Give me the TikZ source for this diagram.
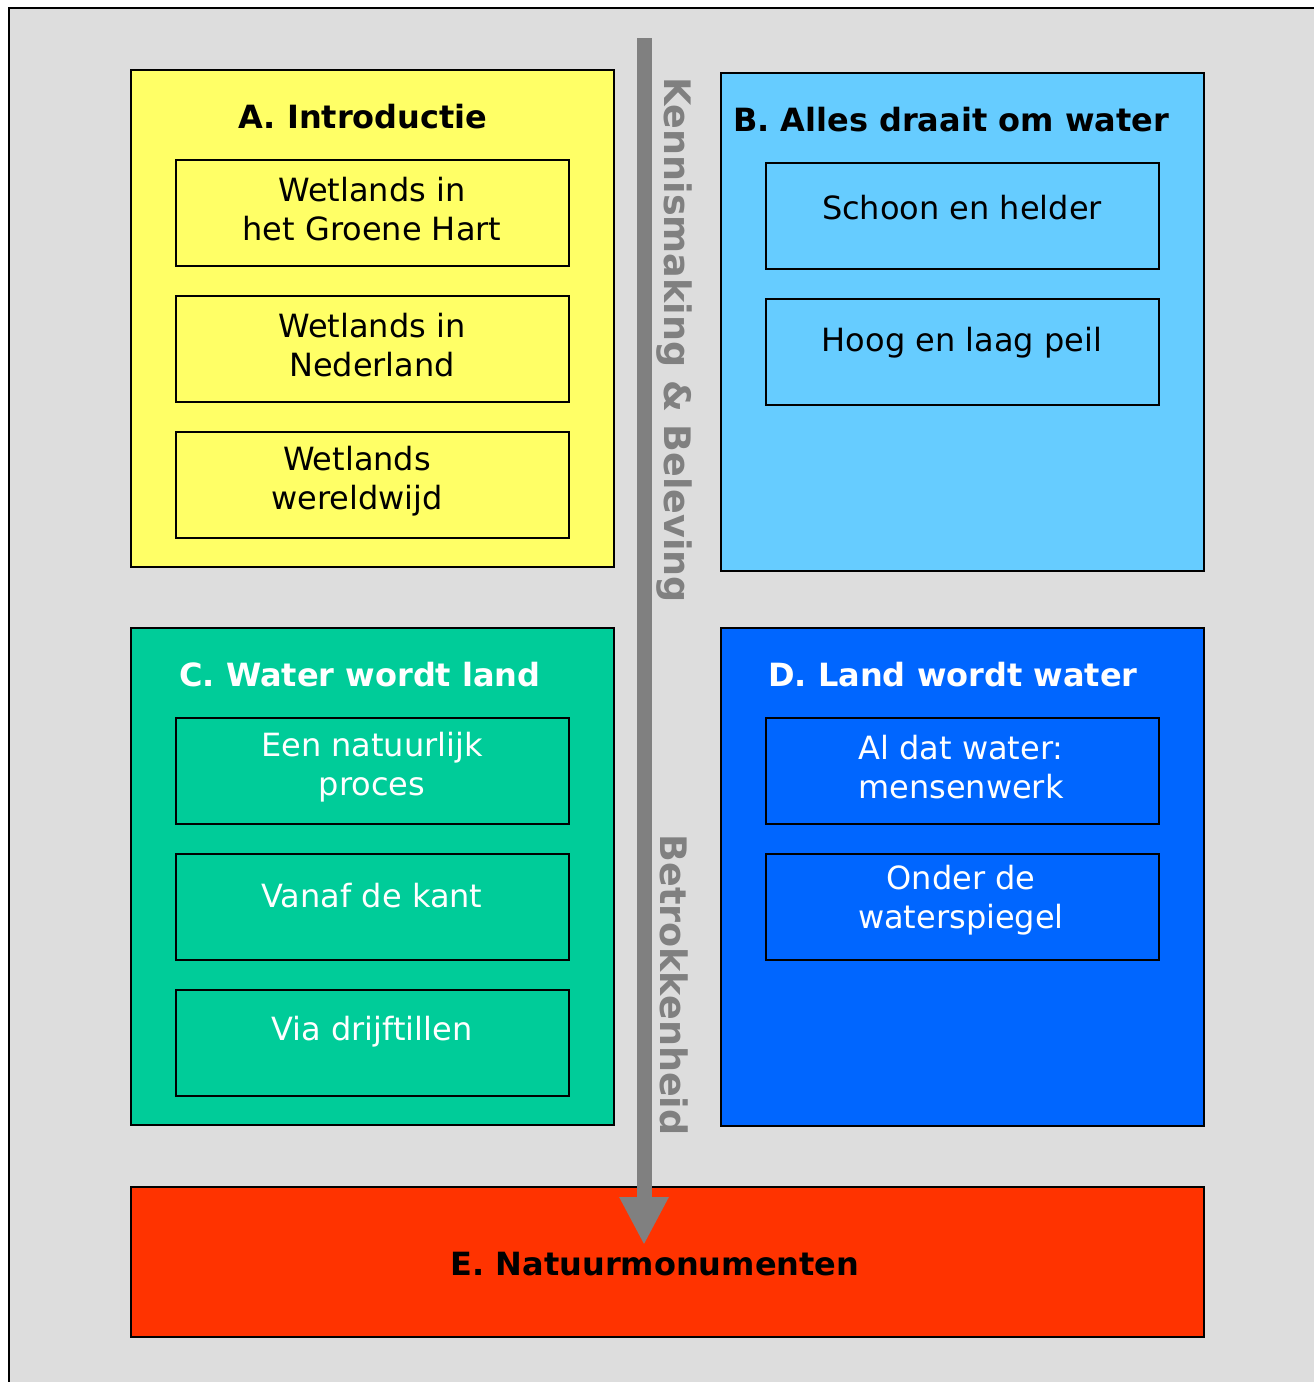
\documentclass[tikz,border=0pt]{standalone}
\usepackage{fontspec}
\setmainfont{DejaVu Sans}
\usetikzlibrary{arrows.meta}
\definecolor{bggray}{HTML}{DDDDDD}
\definecolor{cyel}{HTML}{FFFF66}
\definecolor{cblue}{HTML}{66CCFF}
\definecolor{cgreen}{HTML}{00CC99}
\definecolor{cdblue}{HTML}{0066FF}
\definecolor{cred}{HTML}{FF3300}
\definecolor{arrgray}{HTML}{808080}
\tikzset{
  panel/.style={draw=black, line width=2pt, anchor=north west, inner sep=0pt},
  sub/.style={draw=black, line width=2pt, anchor=north west, inner sep=0pt,
    minimum width=393pt, minimum height=106pt},
  txt/.style={font=\fontsize{32}{39}\selectfont, align=center, inner sep=0pt},
  ttl/.style={font=\fontsize{32}{39}\selectfont\bfseries, inner sep=0pt},
  side/.style={font=\fontsize{36.5}{39}\selectfont\bfseries, text=arrgray, rotate=-90, inner sep=0pt}
}
\begin{document}
\begin{tikzpicture}[x=1pt,y=-1pt]
\useasboundingbox (0,0) rectangle (1314,1382);
\fill[bggray] (9,8) rectangle (1320,1390);
\draw[black, line width=2.5pt] (9,1390) -- (9,8) -- (1320,8);
% panels
\node[panel, fill=cyel, minimum width=483pt, minimum height=497pt] (A) at (130,69) {};
\node[panel, fill=cblue, minimum width=483pt, minimum height=498pt] (B) at (720,72) {};
\node[panel, fill=cgreen, minimum width=483pt, minimum height=497pt] (C) at (130,627) {};
\node[panel, fill=cdblue, minimum width=483pt, minimum height=498pt] (D) at (720,627) {};
\node[panel, fill=cred, minimum width=1073pt, minimum height=150pt] (E) at (130,1186) {};
% titles
\node[ttl] (At) at (363,117) {A. Introductie};
\node[ttl] (Bt) at (951,120) {B. Alles draait om water};
\node[ttl, text=white] (Ct) at (360,675) {C. Water wordt land};
\node[ttl, text=white] (Dt) at (953,675) {D. Land wordt water};
\node[ttl] (Et) at (655,1264) {E. Natuurmonumenten};
% sub boxes A
\node[sub] (A1) at (175,159) {};
\node[sub] (A2) at (175,295) {};
\node[sub] (A3) at (175,431) {};
\node[txt] (A1t) at (372,209) {Wetlands in\\het Groene Hart};
\node[txt] (A2t) at (372,345) {Wetlands in\\Nederland};
\node[txt] (A3t) at (357,481) {Wetlands\\wereldwijd};
% sub boxes B
\node[sub] (B1) at (765,162) {};
\node[sub] (B2) at (765,298) {};
\node[txt] (B1t) at (962,208) {Schoon en helder};
\node[txt] (B2t) at (962,343) {Hoog en laag peil};
% sub boxes C
\node[sub] (C1) at (175,717) {};
\node[sub] (C2) at (175,853) {};
\node[sub] (C3) at (175,989) {};
\node[txt, text=white] (C1t) at (372,767) {Een natuurlijk\\proces};
\node[txt, text=white] (C2t) at (372,896) {Vanaf de kant};
\node[txt, text=white] (C3t) at (372,1032) {Via drijftillen};
% sub boxes D
\node[sub] (D1) at (765,717) {};
\node[sub] (D2) at (765,853) {};
\node[txt, text=white] (D1t) at (961,767) {Al dat water:\\mensenwerk};
\node[txt, text=white] (D2t) at (961,900) {Onder de\\waterspiegel};
% arrow
\coordinate (arrtop) at (644,38);
\coordinate (arrtip) at (644,1245);
\draw[arrgray, line width=15pt, -{Triangle[width=46pt,length=48pt]}] (arrtop) -- (arrtip);
% side labels
\node[side] (K) at (674,340) {Kennismaking \& Beleving};
\node[side] (Bk) at (674,985) {Betrokkenheid};
\end{tikzpicture}
\end{document}
